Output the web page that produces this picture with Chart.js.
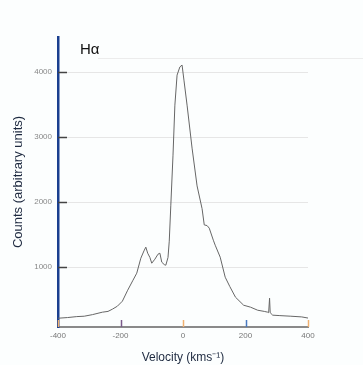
<!DOCTYPE html>
<html lang="en">
<head>
  <meta charset="UTF-8">
  <title>H-alpha profile</title>
  <script src="https://cdn.jsdelivr.net/npm/chart.js"></script>
  <style>
    body {
      margin: 0;
      background: #fcfefe;
    }
    #wrap {
      width: 363px;
      height: 365px;
    }
  </style>
</head>
<body>
  <div id="wrap"><canvas id="profileChart" width="363" height="365"></canvas></div>

  <script>
    // velocity (km/s) and counts
    var velocity = [-400, -370, -340, -316, -290, -258, -240, -226, -210, -194, -177, -160, -148, -135,
      -125, -119, -113, -106, -100, -90, -80, -74, -68, -60, -55, -48, -44, -39, -32, -26, -19, -10, -3,
      3, 13, 29, 45, 61, 68, 77, 84, 97, 103, 119, 135, 150, 168, 194, 216, 239, 260, 271, 274, 277,
      279, 287, 310, 345, 380, 403];
    var counts = [215, 225, 240, 246, 270, 308, 320, 354, 400, 477, 646, 800, 908, 1138,
      1250, 1308, 1215, 1150, 1061, 1123, 1200, 1215, 1077, 1040, 1030, 1150, 1400, 1954, 2723, 3492, 3954, 4080, 4108,
      3877, 3492, 2831, 2250, 1900, 1650, 1640, 1600, 1415, 1338, 1154, 846, 700, 538, 415, 385, 338, 320, 308, 300, 523,
      300, 262, 255, 246, 235, 215];

    var xTicks = [-400, -200, 0, 200, 400];
    var yTicks = [1000, 2000, 3000, 4000];
    var xTickColors = ['#f0b070', '#7a5a8a', '#f0b070', '#4a7ac0', '#f0b070'];

    var points = velocity.map(function (v, i) {
      return { x: v, y: counts[i] };
    });

    // title and small tick marks drawn inside the plot area
    var extras = {
      id: 'extras',
      afterDraw: function (chart) {
        var c = chart.ctx;
        var area = chart.chartArea;
        var xs = chart.scales.x;
        var ys = chart.scales.y;
        c.save();
        c.strokeStyle = '#444';
        c.lineWidth = 1.5;
        yTicks.forEach(function (t) {
          var py = Math.round(ys.getPixelForValue(t)) + 0.5;
          c.beginPath();
          c.moveTo(area.left, py);
          c.lineTo(area.left + 9, py);
          c.stroke();
        });
        xTicks.forEach(function (t, i) {
          var px = Math.round(xs.getPixelForValue(t)) + 0.5;
          c.strokeStyle = xTickColors[i];
          c.beginPath();
          c.moveTo(px, area.bottom);
          c.lineTo(px, area.bottom - 7);
          c.stroke();
        });
        c.fillStyle = '#111';
        c.font = '15px "Liberation Sans", Arial, sans-serif';
        c.textBaseline = 'middle';
        c.fillText('H\u03b1', area.left + 22, area.top + 13);
        c.strokeStyle = '#ececec';
        c.lineWidth = 1;
        c.beginPath();
        c.moveTo(area.left + 40, area.top + 21.5);
        c.lineTo(363, area.top + 21.5);
        c.stroke();
        c.restore();
      }
    };

    var ctx = document.getElementById('profileChart').getContext('2d');
    var chart = new Chart(ctx, {
      type: 'line',
      data: {
        datasets: [{
          data: points,
          borderColor: '#666',
          borderWidth: 1,
          pointRadius: 0,
          tension: 0,
          fill: false
        }]
      },
      options: {
        responsive: false,
        animation: false,
        layout: {
          padding: { left: 0, right: 55, top: 37, bottom: 0 }
        },
        plugins: {
          legend: { display: false },
          tooltip: { enabled: false }
        },
        scales: {
          x: {
            type: 'linear',
            min: -400,
            max: 400,
            afterBuildTicks: function (scale) {
              scale.ticks = xTicks.map(function (v) { return { value: v }; });
            },
            afterFit: function (scale) {
              scale.height = 38;
            },
            grid: { display: false, drawTicks: false },
            border: { color: '#8a8a8a', width: 2 },
            ticks: {
              color: '#777',
              padding: 4,
              maxRotation: 0,
              font: { size: 8, family: 'Liberation Sans' },
              callback: function (v) { return String(v); }
            },
            title: {
              display: true,
              text: 'Velocity (kms\u207b\u00b9)',
              color: '#1e2a40',
              padding: { top: 1, bottom: 0 },
              font: { size: 12, family: 'Liberation Sans' }
            }
          },
          y: {
            min: 80,
            max: 4540,
            afterBuildTicks: function (scale) {
              scale.ticks = yTicks.map(function (v) { return { value: v }; });
            },
            afterFit: function (scale) {
              scale.width = 58;
            },
            grid: { color: '#e6e6e6', drawTicks: false },
            border: { color: '#1a3f8f', width: 2.5 },
            ticks: {
              color: '#888',
              padding: 6,
              font: { size: 8, family: 'Liberation Sans' },
              callback: function (v) { return String(v); }
            },
            title: {
              display: true,
              text: 'Counts (arbitrary units)',
              color: '#1e2a40',
              padding: { top: 11, bottom: 0 },
              font: { size: 13, family: 'Liberation Sans' }
            }
          }
        }
      },
      plugins: [extras]
    });
  </script>
</body>
</html>
